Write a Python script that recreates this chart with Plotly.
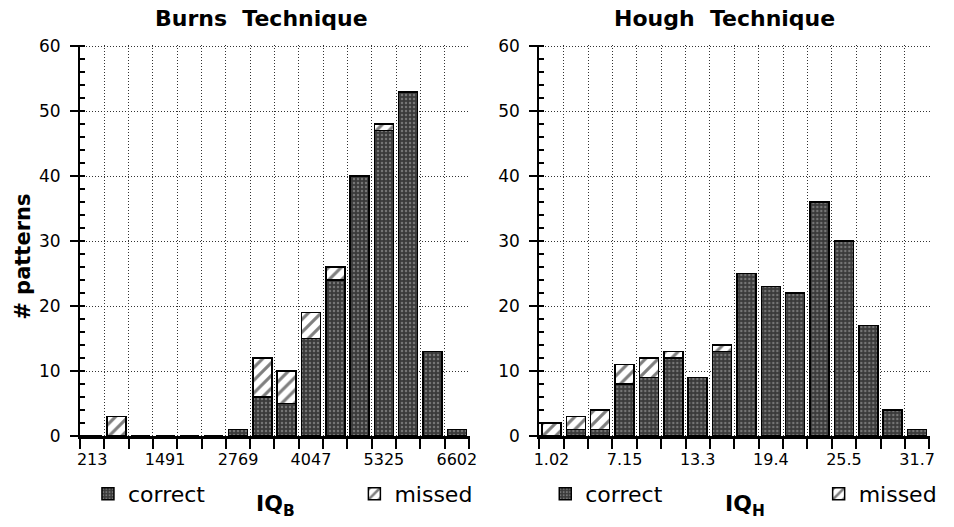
import plotly.graph_objects as go

# ---- data ----
bins = list(range(16))
burns_tick_labels = ["213", "1491", "2769", "4047", "5325", "6602"]
burns_correct = [0, 0, 0, 0, 0, 0, 1, 6, 5, 15, 24, 40, 47, 53, 13, 1]
burns_missed = [0, 3, 0, 0, 0, 0, 0, 6, 5, 4, 2, 0, 1, 0, 0, 0]

hough_tick_labels = ["1.02", "7.15", "13.3", "19.4", "25.5", "31.7"]
hough_correct = [0, 1, 1, 8, 9, 12, 9, 13, 25, 23, 22, 36, 30, 17, 4, 1]
hough_missed = [2, 2, 3, 3, 3, 1, 0, 1, 0, 0, 0, 0, 0, 0, 0, 0]

label_bins = [0, 3, 6, 9, 12, 15]
y_ticks = [0, 10, 20, 30, 40, 50, 60]
y_tick_labels = ["0", "10", "20", "30", "40", "50", "60"]

# ---- styles ----
W, H = 954, 527
ML, MR, MT, MB = 80, 19, 45, 90
PW = W - ML - MR
PH = H - MT - MB

def px_x(x):
    return (x - ML) / PW

def px_y(y):
    return (H - MB - y) / PH

correct_marker = dict(
    color="#3a3a3a",
    line=dict(color="black", width=1.5),
    pattern=dict(shape=".", fgcolor="#b0b0b0", bgcolor="#3a3a3a", size=4, solidity=0.3),
)
missed_marker = dict(
    color="white",
    line=dict(color="black", width=1.5),
    pattern=dict(shape="/", fgcolor="black", bgcolor="white", size=9, solidity=0.35),
)

fig = go.Figure()
fig.add_trace(go.Bar(x=bins, y=burns_correct, name="correct", marker=correct_marker,
                     xaxis="x", yaxis="y", legend="legend"))
fig.add_trace(go.Bar(x=bins, y=burns_missed, name="missed", marker=missed_marker,
                     xaxis="x", yaxis="y", legend="legend2"))
fig.add_trace(go.Bar(x=bins, y=hough_correct, name="correct", marker=correct_marker,
                     xaxis="x2", yaxis="y2", legend="legend3"))
fig.add_trace(go.Bar(x=bins, y=hough_missed, name="missed", marker=missed_marker,
                     xaxis="x2", yaxis="y2", legend="legend4"))

tick_font = dict(family="DejaVu Sans", size=16, color="black")
grid_dash = "1px,2px"

def xaxis(domain, labels, anchor):
    return dict(
        domain=domain, anchor=anchor, range=[-0.5, 15.53],
        tickmode="array", tickvals=label_bins, ticktext=labels,
        ticks="outside", ticklen=7, tickcolor="rgba(0,0,0,0)",
        showgrid=False, zeroline=False, automargin=False,
        showline=True, linecolor="black", linewidth=2.5,
        tickfont=tick_font,
        minor=dict(tickmode="linear", tick0=-0.5, dtick=1, ticks="outside",
                   ticklen=10, tickwidth=2, tickcolor="black",
                   showgrid=True, gridcolor="#333", griddash=grid_dash, gridwidth=1),
        fixedrange=True,
    )

def yaxis(anchor):
    return dict(
        anchor=anchor, domain=[0, 1], range=[0, 60.2],
        tickmode="array", tickvals=y_ticks, ticktext=y_tick_labels,
        ticks="outside", ticklen=8, tickwidth=2, tickcolor="black",
        ticklabelstandoff=6, automargin=False,
        showgrid=True, gridcolor="#333", griddash=grid_dash, gridwidth=1,
        zeroline=False, showline=True, linecolor="black", linewidth=2,
        tickfont=dict(family="DejaVu Sans", size=17, color="black"),
        minor=dict(tickmode="linear", tick0=0, dtick=2, ticks="inside",
                   ticklen=5, tickwidth=1.5, tickcolor="black", showgrid=False),
        fixedrange=True,
    )

dom1 = [0, px_x(472)]
dom2 = [px_x(542), 1]

def legend_at(xpx):
    return dict(
        orientation="h", xanchor="left", yanchor="middle",
        x=px_x(xpx), y=px_y(495),
        font=dict(family="DejaVu Sans", size=22, color="black"),
        bgcolor="rgba(0,0,0,0)", borderwidth=0, itemclick=False, itemdoubleclick=False,
    )

def text_ann(text, xpx, ypx, size, angle=0):
    return dict(text=text, x=px_x(xpx), y=px_y(ypx), xref="paper", yref="paper",
                xanchor="center", yanchor="middle", showarrow=False, textangle=angle,
                font=dict(family="DejaVu Sans", size=size, color="black"))

fig.update_layout(
    width=W, height=H,
    margin=dict(l=ML, r=MR, t=MT, b=MB),
    paper_bgcolor="white", plot_bgcolor="white",
    barmode="stack", bargap=0.22,
    showlegend=True,
    xaxis=xaxis(dom1, burns_tick_labels, "y"),
    yaxis=yaxis("x"),
    xaxis2=xaxis(dom2, hough_tick_labels, "y2"),
    yaxis2=yaxis("x2"),
    legend=legend_at(88),
    legend2=legend_at(356),
    legend3=legend_at(548),
    legend4=legend_at(823),
    annotations=[
        text_ann("<b>Burns  Technique</b>", 263, 18, 22),
        text_ann("<b>Hough  Technique</b>", 728, 18, 22),
        text_ann("<b># patterns</b>", 23, 257, 21, -90),
        text_ann("<b>IQ<sub>B</sub></b>", 277, 507, 22),
        text_ann("<b>IQ<sub>H</sub></b>", 749, 507, 22),
    ],
)

fig.write_html("out.html")
